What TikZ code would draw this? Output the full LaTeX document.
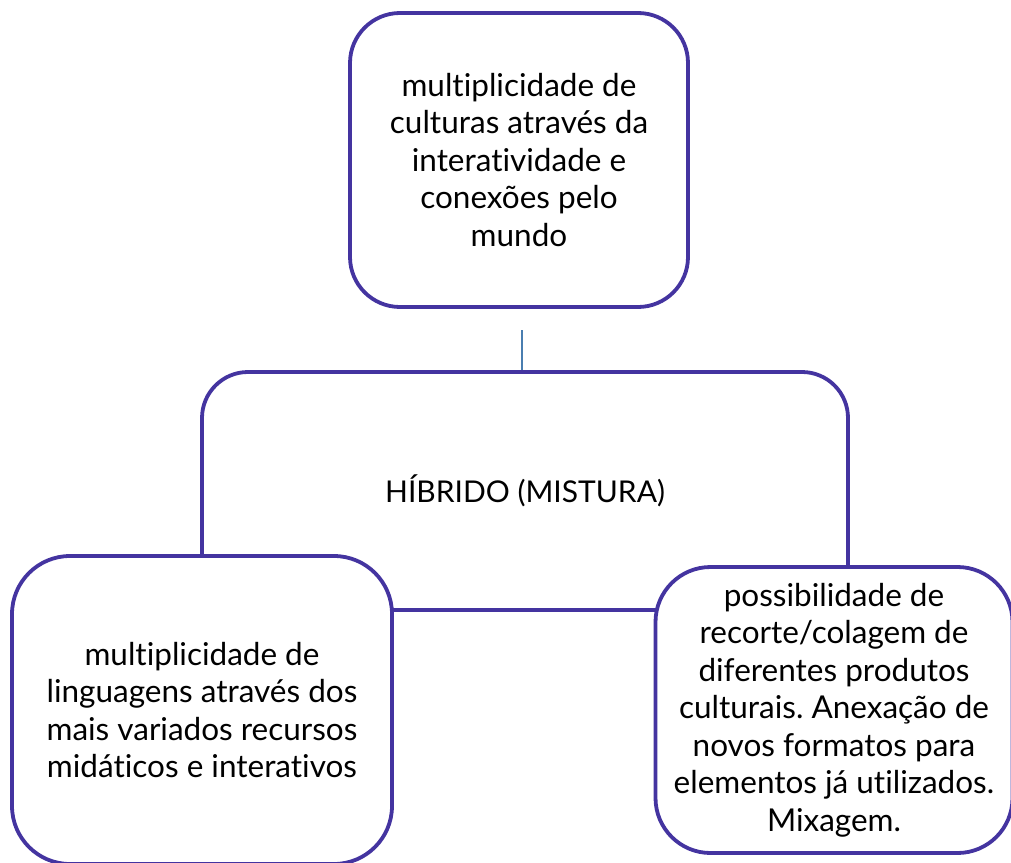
\documentclass[tikz,border=0pt]{standalone}
\usepackage{fontspec}
\setmainfont{Lato}[Ligatures=NoCommon]
\frenchspacing
\definecolor{boxline}{RGB}{68,52,160}
\definecolor{conn}{RGB}{74,126,176}
\begin{document}
\begin{tikzpicture}[x=1pt,y=-1pt,
  box/.style={draw=boxline,line width=3.8pt,fill=white,rectangle,align=center,
    inner sep=0pt,font=\fontsize{31.5}{37.5}\selectfont},
  conline/.style={draw=conn,line width=2pt}]
\useasboundingbox (0,0) rectangle (1011,862);
\node[box,rounded corners=46pt,minimum width=646pt,minimum height=238pt,
  font=\fontsize{30}{36}\selectfont] (mid) at (525,491) {HÍBRIDO (MISTURA)};
\node[box,rounded corners=50pt,minimum width=338pt,minimum height=294pt] (top) at (519,160)
  {multiplicidade de\\culturas através da\\interatividade e\\conexões pelo\\mundo};
\coordinate (ctop) at (522,330);
\draw[conline] (ctop) -- (ctop |- mid.north);
\node[box,rounded corners=58pt,minimum width=380pt,minimum height=308pt] (left) at (202,710)
  {multiplicidade de\\linguagens através dos\\mais variados recursos\\midáticos e interativos};
\node[box,rounded corners=55pt,minimum width=357pt,minimum height=286pt] (right) at (834,710)
  {possibilidade de\\recorte/colagem de\\diferentes produtos\\culturais. Anexação de\\novos formatos para\\elementos já utilizados.\\Mixagem.};
\end{tikzpicture}
\end{document}
